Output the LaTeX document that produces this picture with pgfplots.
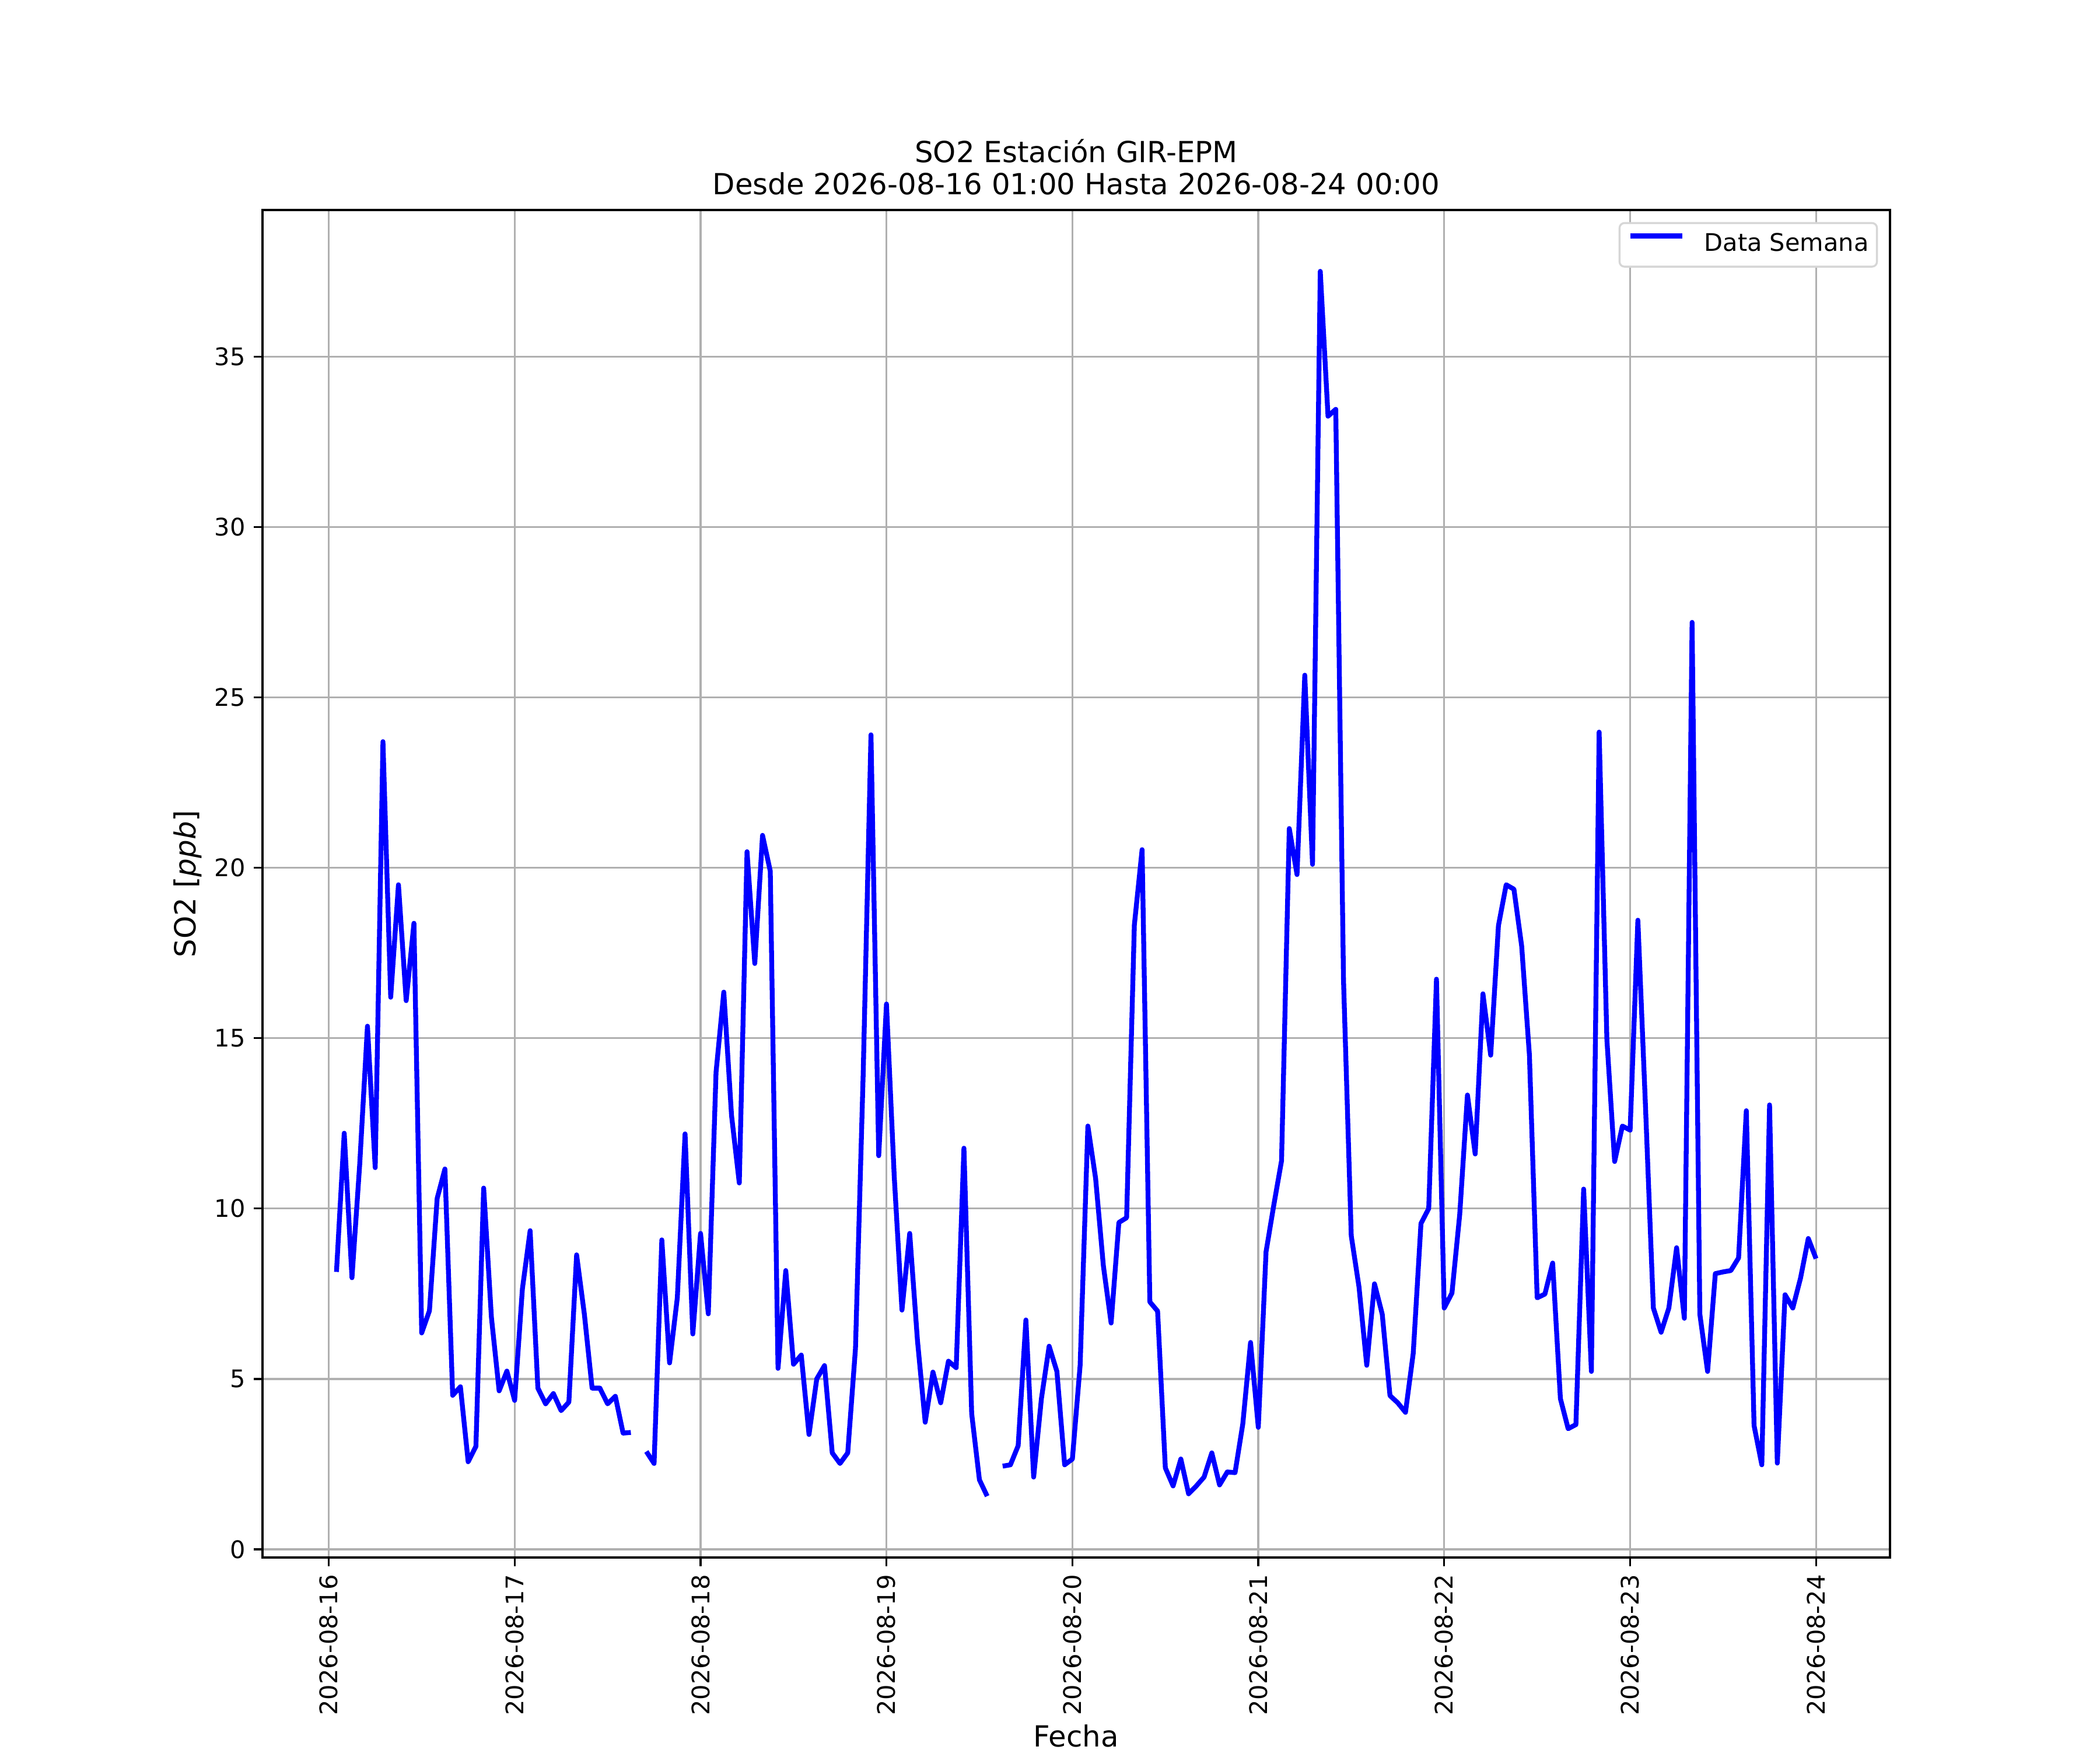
\documentclass[border=0pt]{standalone}
\usepackage{fontspec}
\setmainfont{DejaVu Sans}
\usepackage{pgfplots}
\pgfplotsset{compat=1.18}
\usepackage{pgfplotstable}
\definecolor{gridgray}{HTML}{B0B0B0}
\definecolor{legborder}{HTML}{D6D6D6}
\pgfplotstableread{
h v
1 8.14
2 12.21
3 7.97
4 11.3
5 15.35
6 11.2
7 23.7
8 16.2
9 19.5
10 16.1
11 18.37
12 6.35
13 7.0
14 10.3
15 11.16
16 4.52
17 4.77
18 2.57
19 3.02
20 10.6
21 6.81
22 4.65
23 5.23
24 4.37
25 7.64
26 9.35
27 4.73
28 4.27
29 4.57
30 4.07
31 4.32
32 8.64
33 6.9
34 4.73
35 4.73
36 4.27
37 4.49
38 3.41
39 3.43
40 nan
41 2.87
42 2.52
43 9.08
44 5.47
45 7.38
46 12.19
47 6.32
48 9.27
49 6.91
50 14.0
51 16.35
52 12.73
53 10.75
54 20.47
55 17.19
56 20.95
57 19.9
58 5.31
59 8.18
60 5.43
61 5.7
62 3.37
63 5.0
64 5.39
65 2.83
66 2.52
67 2.83
68 5.9
69 14.0
70 23.9
71 11.55
72 16.0
73 10.95
74 7.02
75 9.27
76 6.13
77 3.73
78 5.2
79 4.3
80 5.52
81 5.33
82 11.77
83 3.98
84 2.04
85 1.56
86 nan
87 2.44
88 2.48
89 3.04
90 6.73
91 2.12
92 4.42
93 5.96
94 5.22
95 2.48
96 2.65
97 5.4
98 12.42
99 10.88
100 8.32
101 6.64
102 9.59
103 9.73
104 18.32
105 20.53
106 7.26
107 6.99
108 2.39
109 1.86
110 2.65
111 1.63
112 1.86
113 2.12
114 2.83
115 1.89
116 2.27
117 2.25
118 3.68
119 6.07
120 3.58
121 8.73
122 10.1
123 11.4
124 21.15
125 19.8
126 25.65
127 20.1
128 37.5
129 33.25
130 33.45
131 16.7
132 9.2
133 7.7
134 5.4
135 7.79
136 6.9
137 4.51
138 4.3
139 4.02
140 5.75
141 9.56
142 10.0
143 16.73
144 7.08
145 7.52
146 9.82
147 13.33
148 11.6
149 16.3
150 14.5
151 18.3
152 19.5
153 19.37
154 17.7
155 14.5
156 7.38
157 7.49
158 8.4
159 4.42
160 3.54
161 3.66
162 10.57
163 5.22
164 23.98
165 14.96
166 11.38
167 12.42
168 12.3
169 18.46
170 12.9
171 7.08
172 6.37
173 7.08
174 8.85
175 6.78
176 27.2
177 6.9
178 5.22
179 8.09
180 8.14
181 8.18
182 8.55
183 12.87
184 3.63
185 2.48
186 13.04
187 2.53
188 7.47
189 7.08
190 7.96
191 9.12
192 8.53
}\sodata
\begin{document}
\begin{tikzpicture}
\path[use as bounding box] (-1.5in,-1.1in) rectangle (10.5in,8.9in);
\begin{axis}[
  at={(0,0)}, anchor=south west,
  scale only axis,
  width=9.3in, height=7.7in,
  xmin=-8.55, xmax=201.55,
  ymin=-0.24, ymax=39.3,
  xtick={0,24,...,192},
  xticklabels={2026-08-16,2026-08-17,2026-08-18,2026-08-19,2026-08-20,2026-08-21,2026-08-22,2026-08-23,2026-08-24},
  ytick={0,5,...,35},
  /pgf/number format/assume math mode=true,
  xtick pos=bottom, ytick pos=left,
  tick align=outside,
  major tick length=3.5pt,
  every tick/.style={black, line width=0.8pt},
  axis line style={black, line width=0.8pt},
  grid=major,
  major grid style={gridgray, line width=0.8pt},
  tick label style={font=\fontsize{10}{12}\selectfont},
  xticklabel style={rotate=90, anchor=east},
  title={SO2 Estación GIR-EPM\\Desde 2026-08-16 01:00 Hasta 2026-08-24 00:00},
  title style={at={(0.5,1)}, anchor=south, inner sep=0pt, align=center, font=\fontsize{12}{13.2}\selectfont},
  xlabel={Fecha},
  ylabel={SO2 [\textit{ppb}]},
  label style={font=\fontsize{12}{14}\selectfont, inner sep=0pt},
  xlabel style={at={(axis description cs:0.5,-0.1405)}, anchor=base},
  ylabel style={at={(axis description cs:-0.0459,0.5)}, anchor=center},
  unbounded coords=jump,
  legend image code/.code={\draw[#1] (0pt,3.65pt) -- (21.6pt,3.65pt);},
  legend style={at={(1,1)}, anchor=north east, xshift=-5pt, yshift=-5pt,
    draw=legborder, line width=0.8pt, rounded corners=2pt,
    inner xsep=3.4pt, inner ysep=4pt, column sep=8pt,
    font=\fontsize{10}{12}\selectfont,
    nodes={inner sep=0pt, text height=7.6pt, text depth=2.4pt}},
]
\addplot[color=blue, line width=2pt, line join=round] table[x=h, y=v] {\sodata};
\addlegendentry{Data Semana}
\end{axis}
\end{tikzpicture}
\end{document}
